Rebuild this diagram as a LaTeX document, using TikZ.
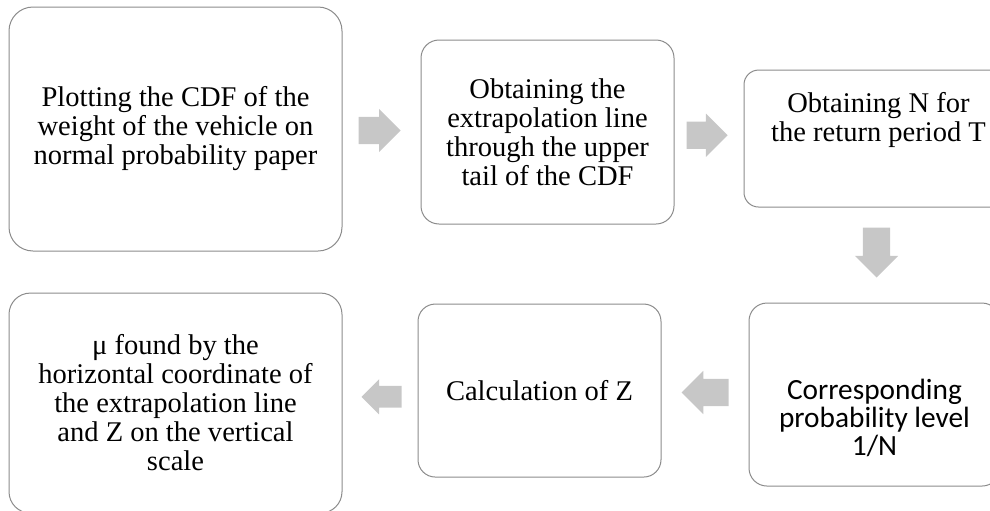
\documentclass[tikz,border=0pt]{standalone}
\usepackage{fontspec}
\setmainfont{Liberation Serif}
\newfontfamily\bodysans{Carlito}
\usepackage{tikz}
\usetikzlibrary{shapes,arrows,positioning,calc}

\begin{document}
\begin{tikzpicture}[node distance=2cm, auto,
    flow block/.style={rectangle, draw=black!45, line width=0.75pt, align=center, fill=white, inner sep=0pt, font=\fontsize{21.4}{21.75}\selectfont},
    flow arrow/.style={single arrow, draw=none, fill=black!22, inner sep=10pt, minimum height=31.5pt, single arrow head extend=6pt, single arrow tip angle=90}]

    \useasboundingbox (0,0) rectangle (742.5pt,-383.25pt);
    \clip (0,0) rectangle (742.5pt,-383.25pt);

    \node [flow block, rounded corners=18pt, minimum width=249.75pt, minimum height=183pt] (cdf) at (131.625pt,-96.75pt) {Plotting the CDF of the\\weight of the vehicle on\\normal probability paper};
    \node [flow block, rounded corners=13.5pt, minimum width=189.75pt, minimum height=138pt, right=58.5pt of cdf, yshift=-2.25pt] (extra) {Obtaining the\\extrapolation line\\through the upper\\tail of the CDF};
    \node [flow block, rounded corners=11pt, minimum width=201.75pt, minimum height=102.75pt, right=51.75pt of extra, yshift=-4.9pt, text height=30pt, text depth=26.25pt] (period) {Obtaining N for\\the return period T};
    \node [flow block, rounded corners=13.5pt, minimum width=188.25pt, minimum height=137.25pt, below=71.25pt of period, xshift=-3pt, font=\bodysans\fontsize{22}{21}\selectfont, text height=95.75pt, text depth=5pt] (level) {Corresponding\\probability level\\1/N};
    \node [flow block, rounded corners=13pt, minimum width=182.25pt, minimum height=129.75pt, left=65.25pt of level, yshift=3pt] (zcalc) {Calculation of Z};
    \node [flow block, rounded corners=16pt, minimum width=249.75pt, minimum height=165pt, left=56.25pt of zcalc, yshift=-9.4pt] (mu) {μ found by the\\horizontal coordinate of\\the extrapolation line\\and Z on the vertical\\scale};

    \node [flow arrow, xshift=-6.5pt] (a1) at ($(cdf.east)!0.5!(extra.west)$) {};
    \node [flow arrow, minimum height=27.75pt, xshift=-6.5pt] (a2) at ($(extra.east)!0.5!(period.west)$) {};
    \node [flow arrow, shape border rotate=270, minimum height=37.5pt, yshift=7pt] (a3) at ($(period.south)!0.5!(level.north)$) {};
    \node [flow arrow, shape border rotate=180, minimum height=35.25pt, xshift=5.25pt] (a4) at ($(level.west)!0.5!(zcalc.east)$) {};
    \node [flow arrow, shape border rotate=180, minimum height=30pt, inner sep=8pt, single arrow head extend=5pt, xshift=5.25pt] (a5) at ($(zcalc.west)!0.5!(mu.east)$) {};

\end{tikzpicture}
\end{document}
